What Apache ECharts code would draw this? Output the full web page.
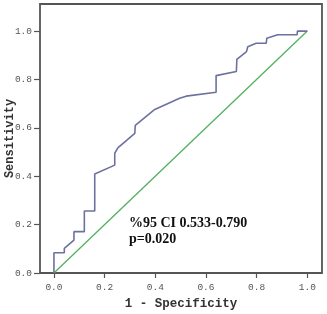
<!DOCTYPE html>
<html>
<head>
<meta charset="utf-8">
<script src="https://cdn.jsdelivr.net/npm/echarts@6/dist/echarts.min.js"></script>
<style>
html,body{margin:0;padding:0;background:#fff;}
#chart{width:327px;height:314px;}
</style>
</head>
<body>
<div id="chart"></div>
<script>
// ROC curve
var fpr = [0, 0, 0.041, 0.041, 0.079, 0.079, 0.12, 0.12, 0.161, 0.161, 0.240, 0.240, 0.253, 0.273, 0.289, 0.319, 0.321, 0.398, 0.496, 0.522, 0.640, 0.640, 0.720, 0.722, 0.760, 0.765, 0.798, 0.838, 0.840, 0.883, 0.960, 0.961, 1.0];
var tpr = [0, 0.084, 0.084, 0.102, 0.136, 0.171, 0.171, 0.256, 0.256, 0.409, 0.446, 0.495, 0.518, 0.536, 0.550, 0.577, 0.610, 0.676, 0.722, 0.731, 0.747, 0.816, 0.833, 0.883, 0.915, 0.935, 0.950, 0.950, 0.970, 0.985, 0.985, 1.0, 1.0];
var refX = [0, 1];
var refY = [0, 1];
var tickVals = [0, 0.2, 0.4, 0.6, 0.8, 1.0];
var annot = ['%95 CI 0.533-0.790', 'p=0.020'];

var rocData = [];
for (var i = 0; i < fpr.length; i++) {
    rocData.push([fpr[i], tpr[i]]);
}
var refData = [];
for (var j = 0; j < refX.length; j++) {
    refData.push([refX[j], refY[j]]);
}

var myChart = echarts.init(document.getElementById('chart'));
var monoFont = '"Liberation Mono", "DejaVu Sans Mono", monospace';

var option = {
    backgroundColor: '#fff',
    animation: false,
    grid: {
        left: 40, right: 5, top: 4, bottom: 41,
        show: true,
        borderColor: '#555',
        borderWidth: 1.8,
        containLabel: false,
        outerBoundsMode: 'none'
    },
    xAxis: {
        type: 'value',
        min: -0.055,
        max: 1.058,
        name: '1 - Specificity',
        nameLocation: 'middle',
        nameGap: 24,
        nameMoveOverlap: false,
        nameTextStyle: { fontFamily: monoFont, fontWeight: 'bold', fontSize: 12.5, color: '#333' },
        axisLine: { show: false, onZero: false },
        axisTick: { show: true, length: 5, customValues: tickVals, lineStyle: { color: '#555', width: 1.2 } },
        axisLabel: {
            customValues: tickVals,
            margin: 9,
            fontFamily: monoFont, fontSize: 9.5, color: '#555',
            formatter: function (v) { return v.toFixed(1); }
        },
        splitLine: { show: false }
    },
    yAxis: {
        type: 'value',
        min: 0,
        max: 1.112,
        name: 'Sensitivity',
        nameLocation: 'middle',
        nameGap: 24,
        nameMoveOverlap: false,
        nameTextStyle: { fontFamily: monoFont, fontWeight: 'bold', fontSize: 12, color: '#333' },
        axisLine: { show: false, onZero: false },
        axisTick: { show: true, length: 6, customValues: tickVals, lineStyle: { color: '#555', width: 1.2 } },
        axisLabel: {
            customValues: tickVals,
            margin: 8,
            fontFamily: monoFont, fontSize: 9.5, color: '#555',
            formatter: function (v) { return v.toFixed(1); }
        },
        splitLine: { show: false }
    },
    series: [
        {
            type: 'line',
            data: refData,
            symbol: 'none',
            lineStyle: { color: '#52b060', width: 1.3 },
            silent: true
        },
        {
            type: 'line',
            data: rocData,
            symbol: 'none',
            lineStyle: { color: '#6c71a0', width: 1.6 },
            silent: true
        }
    ],
    graphic: [
        {
            type: 'text',
            left: 129, top: 216,
            style: { text: annot[0], font: 'bold 14px "Liberation Serif", "DejaVu Serif", serif', fill: '#111' }
        },
        {
            type: 'text',
            left: 129, top: 232,
            style: { text: annot[1], font: 'bold 14px "Liberation Serif", "DejaVu Serif", serif', fill: '#111' }
        }
    ]
};
myChart.setOption(option);
</script>
</body>
</html>
